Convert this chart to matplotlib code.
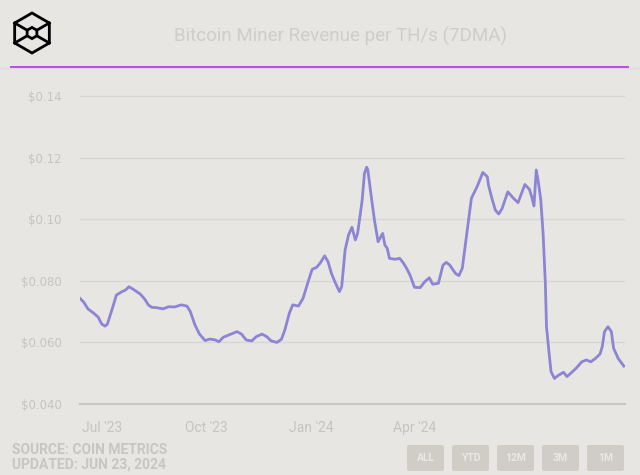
import numpy as np
import pandas as pd
import matplotlib
matplotlib.use("Agg")
import matplotlib.pyplot as plt
from matplotlib.patches import FancyBboxPatch, RegularPolygon
from matplotlib.lines import Line2D

# Data (days after start date, USD per TH/s, 7DMA)
start = pd.Timestamp("2023-06-12")
days = [0, 3, 7, 12, 16, 19, 22, 24, 28, 32, 37, 40, 43, 47, 53, 57, 60, 63, 67, 73,
        78, 83, 89, 94, 97, 101, 105, 110, 114, 119, 122, 126, 132, 138, 142, 146, 151, 155, 160, 164,
        168, 173, 177, 180, 184, 187, 192, 196, 201, 204, 208, 211, 215, 218, 221, 224, 228, 230, 233, 236,
        239, 242, 244, 248, 250, 252, 253, 256, 259, 262, 266, 268, 270, 272, 277, 281, 284, 287, 290, 294,
        299, 303, 307, 310, 315, 319, 322, 325, 330, 333, 336, 340, 344, 349, 352, 354, 358, 359, 362, 365,
        368, 371, 376, 381, 385, 388, 391, 395, 397, 399, 401, 403, 405, 407, 409, 410, 412, 414, 417, 420,
        425, 428, 432, 436, 441, 445, 449, 453, 457, 459, 461, 464, 467, 469, 473, 478]
revenue = [0.0743, 0.0732, 0.0709, 0.0695, 0.0682, 0.0660, 0.0653, 0.0659, 0.0705, 0.0754,
           0.0765, 0.0770, 0.0781, 0.0772, 0.0757, 0.0740, 0.0722, 0.0714, 0.0713, 0.0709,
           0.0716, 0.0715, 0.0722, 0.0718, 0.0700, 0.0657, 0.0627, 0.0606, 0.0611, 0.0608,
           0.0602, 0.0617, 0.0626, 0.0635, 0.0627, 0.0608, 0.0605, 0.0619, 0.0627, 0.0619,
           0.0605, 0.0600, 0.0610, 0.0640, 0.0695, 0.0722, 0.0718, 0.0743, 0.0803, 0.0837,
           0.0844, 0.0857, 0.0881, 0.0862, 0.0824, 0.0797, 0.0765, 0.0781, 0.0900, 0.0949,
           0.0974, 0.0933, 0.0954, 0.1062, 0.1149, 0.1169, 0.1160, 0.1073, 0.0992, 0.0927,
           0.0954, 0.0916, 0.0906, 0.0873, 0.0870, 0.0873, 0.0859, 0.0841, 0.0819, 0.0779,
           0.0778, 0.0797, 0.0810, 0.0789, 0.0792, 0.0851, 0.0860, 0.0851, 0.0824, 0.0817,
           0.0841, 0.0954, 0.1068, 0.1106, 0.1133, 0.1152, 0.1138, 0.1111, 0.1068, 0.1030,
           0.1017, 0.1035, 0.1089, 0.1068, 0.1054, 0.1084, 0.1113, 0.1097, 0.1073, 0.1043,
           0.1160, 0.1117, 0.1062, 0.0954, 0.0792, 0.0651, 0.0575, 0.0505, 0.0483, 0.0492,
           0.0503, 0.0489, 0.0502, 0.0516, 0.0537, 0.0543, 0.0537, 0.0548, 0.0562, 0.0586,
           0.0635, 0.0651, 0.0635, 0.0581, 0.0548, 0.0523]
ytick_vals = [0.04, 0.06, 0.08, 0.10, 0.12, 0.14]
ytick_labels = ["$0.040", "$0.060", "$0.080", "$0.10", "$0.12", "$0.14"]
xtick_dates = ["2023-07-01", "2023-10-01", "2024-01-01", "2024-04-01"]
xtick_labels = ["Jul '23", "Oct '23", "Jan '24", "Apr '24"]
buttons = ["ALL", "YTD", "12M", "3M", "1M"]
title = "Bitcoin Miner Revenue per TH/s (7DMA)"
source_lines = ["SOURCE: COIN METRICS", "UPDATED: JUN 23, 2024"]

bg = "#e8e6e2"
narrow = ["Liberation Sans Narrow", "Roboto", "DejaVu Sans"]

dates = start + pd.to_timedelta(days, unit="D")

fig = plt.figure(figsize=(6.4, 4.75), dpi=100, facecolor=bg)
W, H = 640, 475

ax = fig.add_axes([80 / W, 1 - 404 / H, 545 / W, 319 / H])
ax.set_facecolor(bg)
ax.plot(dates, revenue, color="#8c84d4", lw=2.0, solid_joinstyle="round")

ax.set_ylim(0.04, 0.1436)
ax.set_xlim(start, start + pd.Timedelta(days=479))
ax.set_yticks(ytick_vals)
ax.set_yticklabels(ytick_labels)
ax.set_xticks(pd.to_datetime(xtick_dates))
ax.set_xticklabels(xtick_labels)
ax.grid(axis="y", color="#d8d6d2", lw=0.9)
ax.set_axisbelow(True)
for s in ["top", "right", "left"]:
    ax.spines[s].set_visible(False)
ax.spines["bottom"].set_color("#c9c7c3")
ax.spines["bottom"].set_linewidth(1.5)
ax.tick_params(axis="both", length=0, colors="#c6c4c0", labelsize=8.5)
ax.tick_params(axis="y", pad=13)
ax.tick_params(axis="x", pad=12)
for lab in ax.get_xticklabels():
    lab.set_family(narrow)
    lab.set_fontsize(10)

# title and header rule
fig.text(340 / W, 1 - 36 / H, title, ha="center", va="center", fontsize=13.5,
         color="#cfcdc9", family=narrow)
fig.add_artist(Line2D([0, 1], [1 - 68 / H] * 2, color="#dcd8e4", lw=1.0))
fig.add_artist(Line2D([11 / W, 628 / W], [1 - 67 / H] * 2, color="#b43ee4", lw=1.3))

# logo
lax = fig.add_axes([10 / W, 1 - 56 / H, 44 / W, 46 / H])
lax.set_xlim(-1.1, 1.1)
lax.set_ylim(-1.15, 1.15)
lax.set_aspect("equal")
lax.axis("off")
lax.add_patch(RegularPolygon((0, 0), 6, radius=1.0, fill=False, ec="black", lw=2))
lax.add_patch(RegularPolygon((0, 0), 6, radius=0.28, fill=False, ec="black", lw=2))
c30 = np.cos(np.pi / 6)
for sx in (-1, 1):
    for sy in (-1, 1):
        lax.plot([sx * c30, sx * 0.28 * c30], [sy * 0.5, sy * 0.14], color="black", lw=2)

# source
fig.text(12 / W, 1 - 450 / H, source_lines[0], ha="left", va="center", fontsize=10,
         color="#c8c6c2", family=narrow, fontweight="bold")
fig.text(12 / W, 1 - 465 / H, source_lines[1], ha="left", va="center", fontsize=10,
         color="#c8c6c2", family=narrow, fontweight="bold")

# range buttons
for i, b in enumerate(buttons):
    x0 = 407 + i * 45
    box = FancyBboxPatch((x0 / W, 1 - 471 / H), 37 / W, 26 / H,
                         boxstyle="round,pad=0,rounding_size=0.004",
                         transform=fig.transFigure, fc="#d0cdc7", ec="none")
    fig.add_artist(box)
    fig.text((x0 + 18.5) / W, 1 - 458 / H, b, ha="center", va="center", fontsize=7.5,
             color="#eae8e4", family=narrow, fontweight="bold")

fig.savefig("out.png", dpi=100, facecolor=bg)
